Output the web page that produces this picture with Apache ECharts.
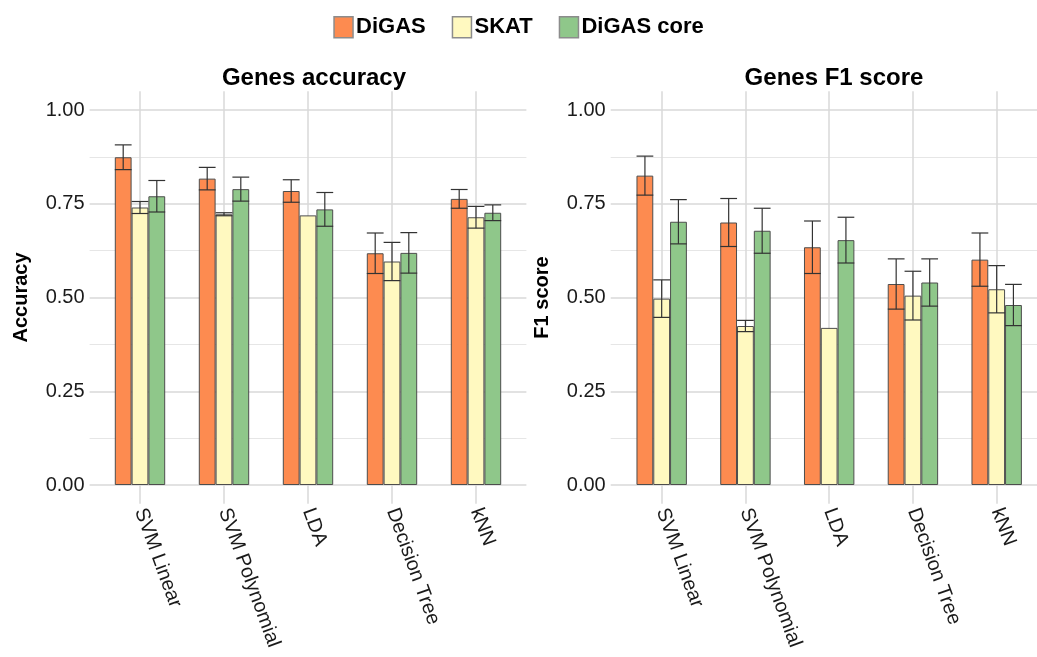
<!DOCTYPE html>
<html>
<head>
<meta charset="utf-8">
<script src="https://cdn.jsdelivr.net/npm/echarts@6/dist/echarts.min.js"></script>
<style>
  html, body { margin: 0; padding: 0; background: #fff; }
  #chart { width: 1037px; height: 657px; }
</style>
</head>
<body>
<div id="chart"></div>
<script>
// Classifier categories shared by both panels
const categories = ['SVM Linear', 'SVM Polynomial', 'LDA', 'Decision Tree', 'kNN'];
const methods = ['DiGAS', 'SKAT', 'DiGAS core'];
const yTicks = [0, 0.25, 0.5, 0.75, 1];

// Genes accuracy: means and standard deviations
const accDigas = [0.874, 0.817, 0.784, 0.618, 0.763];
const accDigasSd = [0.033, 0.030, 0.030, 0.054, 0.025];
const accSkat = [0.740, 0.722, 0.719, 0.596, 0.714];
const accSkatSd = [0.016, 0.004, 0.000, 0.051, 0.029];
const accCore = [0.770, 0.789, 0.735, 0.619, 0.726];
const accCoreSd = [0.042, 0.032, 0.045, 0.054, 0.021];

// Genes F1 score: means and standard deviations
const f1Digas = [0.825, 0.700, 0.634, 0.536, 0.601];
const f1DigasSd = [0.052, 0.064, 0.070, 0.067, 0.071];
const f1Skat = [0.497, 0.424, 0.419, 0.505, 0.522];
const f1SkatSd = [0.050, 0.015, 0.000, 0.065, 0.063];
const f1Core = [0.702, 0.678, 0.653, 0.540, 0.480];
const f1CoreSd = [0.059, 0.060, 0.061, 0.063, 0.055];

const colors = ['#FD8B50', '#FFF9C0', '#8FC78A'];
const FONT = '"Liberation Sans", Arial, Helvetica, sans-serif';
const gridColor = '#D9D9D9';
const minorColor = '#E6E6E6';

// Panel geometry (bars grid, horizontal-grid area, vertical-grid area)
const panels = [
  { bars: { left: 98, width: 420 }, h: { left: 89.6, width: 436.8 }, v: { left: 140, width: 336 },
    title: 'Genes accuracy', titleX: 309, yName: 'Accuracy',
    means: [accDigas, accSkat, accCore], sds: [accDigasSd, accSkatSd, accCoreSd] },
  { bars: { left: 619.8, width: 418.75 }, h: { left: 610.7, width: 436.3 }, v: { left: 661.7, width: 335 },
    title: 'Genes F1 score', titleX: 829, yName: 'F1 score',
    means: [f1Digas, f1Skat, f1Core], sds: [f1DigasSd, f1SkatSd, f1CoreSd] }
];

const grids = [], xAxes = [], yAxes = [], series = [], titles = [];

panels.forEach(function (p, pi) {
  const base = pi * 3;
  // bars grid
  grids.push({ left: p.bars.left, width: p.bars.width, top: 110, height: 375, outerBoundsMode: 'none' });
  // horizontal gridlines + y labels
  grids.push({ left: p.h.left, width: p.h.width, top: 110, height: 375, outerBoundsMode: 'none' });
  // vertical gridlines + category labels
  grids.push({ left: p.v.left, width: p.v.width, top: 91.25, height: 412.5, outerBoundsMode: 'none' });

  xAxes.push({ gridIndex: base, type: 'category', data: categories, show: false });
  xAxes.push({ gridIndex: base + 1, type: 'value', show: false });
  xAxes.push({
    gridIndex: base + 2, type: 'category', data: categories, boundaryGap: false, z: 0,
    axisLine: { show: false }, axisTick: { show: false },
    splitLine: { show: true, lineStyle: { color: gridColor, width: 1.5 } },
    axisLabel: { rotate: -70, margin: 5, fontSize: 20, color: '#1a1a1a', fontFamily: FONT, interval: 0 }
  });

  yAxes.push({ gridIndex: base, type: 'value', min: 0, max: 1, show: false });
  yAxes.push({
    gridIndex: base + 1, type: 'value', min: 0, max: 1, interval: 0.25, z: 0,
    name: p.yName, nameLocation: 'middle', nameGap: 58,
    nameTextStyle: { fontSize: 20, fontWeight: 'bold', color: '#000', fontFamily: FONT },
    axisLine: { show: false }, axisTick: { show: false },
    axisLabel: { margin: 5, fontSize: 20, color: '#1a1a1a', fontFamily: FONT,
      formatter: function (v) { return yTicks.indexOf(v) >= 0 ? v.toFixed(2) : ''; } },
    splitLine: { show: true, lineStyle: { color: gridColor, width: 1.5 } },
    minorTick: { show: false, splitNumber: 2 },
    minorSplitLine: { show: true, lineStyle: { color: minorColor, width: 1 } }
  });
  yAxes.push({ gridIndex: base + 2, type: 'value', min: 0, max: 1, show: false });

  titles.push({
    text: p.title, left: p.titleX, top: 61, textAlign: 'center',
    textStyle: { fontSize: 24, fontWeight: 'bold', color: '#000', fontFamily: FONT }
  });

  // one bar series per method
  methods.forEach(function (m, mi) {
    series.push({
      name: m, type: 'bar', xAxisIndex: base, yAxisIndex: base,
      data: p.means[mi], barWidth: 16.8, barGap: '0%', z: 3,
      itemStyle: { color: colors[mi], borderColor: '#4d4d4d', borderWidth: 1 }
    });
  });

  // error bars: mean ± sd for each method/category
  const errData = [];
  methods.forEach(function (m, mi) {
    categories.forEach(function (c, ci) {
      errData.push([ci, mi, p.means[mi][ci], p.sds[mi][ci]]);
    });
  });
  series.push({
    type: 'custom', xAxisIndex: base, yAxisIndex: base, z: 5, silent: true,
    data: errData,
    renderItem: function (params, api) {
      const ci = api.value(0), mi = api.value(1), mean = api.value(2), sd = api.value(3);
      if (!sd) return null;
      const band = api.size([1, 0])[0];
      const bw = band * 0.2;
      const cx = api.coord([ci, mean])[0] + (mi - 1) * bw;
      const yTop = api.coord([ci, mean + sd])[1];
      const yBot = api.coord([ci, mean - sd])[1];
      const st = { stroke: '#333', lineWidth: 1.2 };
      return {
        type: 'group',
        children: [
          { type: 'line', shape: { x1: cx, y1: yTop, x2: cx, y2: yBot }, style: st },
          { type: 'line', shape: { x1: cx - bw / 2, y1: yTop, x2: cx + bw / 2, y2: yTop }, style: st },
          { type: 'line', shape: { x1: cx - bw / 2, y1: yBot, x2: cx + bw / 2, y2: yBot }, style: st }
        ]
      };
    }
  });
});

const chart = echarts.init(document.getElementById('chart'), null, { renderer: 'canvas' });
chart.setOption({
  backgroundColor: '#fff',
  animation: false,
  title: titles,
  legend: {
    data: methods, top: 11, left: 'center', itemGap: 26, itemWidth: 19, itemHeight: 21,
    icon: 'rect',
    itemStyle: { borderColor: '#8c8c8c', borderWidth: 1.5 },
    textStyle: { fontSize: 22, fontWeight: 'bold', color: '#000', fontFamily: FONT, padding: [0, 0, 0, -2] }
  },
  grid: grids,
  xAxis: xAxes,
  yAxis: yAxes,
  series: series
});
</script>
</body>
</html>
